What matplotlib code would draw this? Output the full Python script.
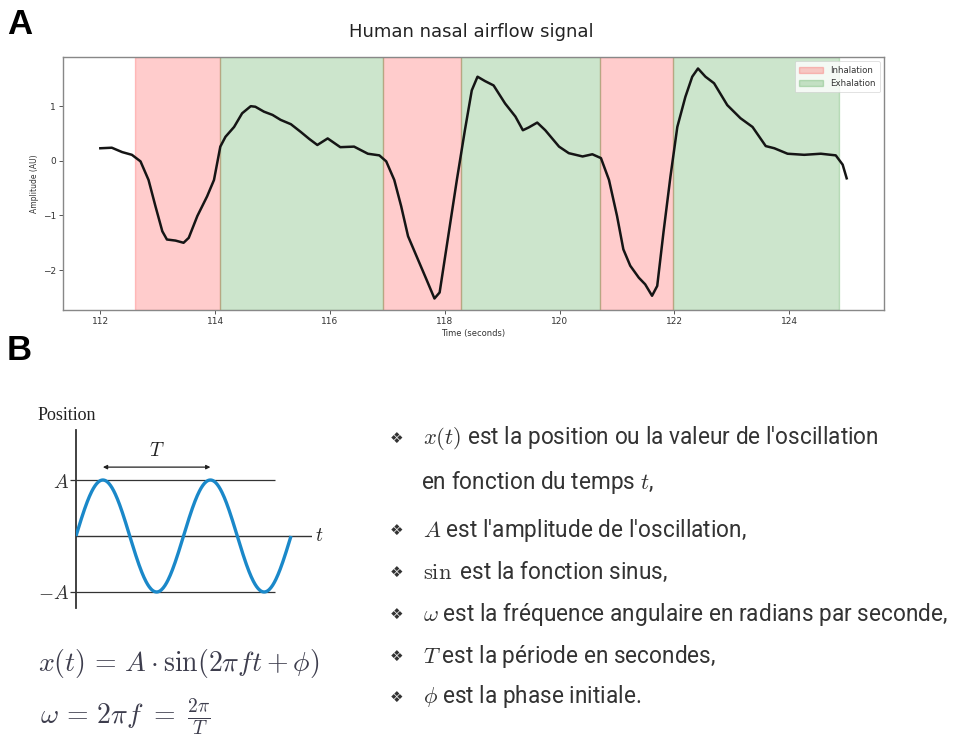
import numpy as np
import matplotlib
matplotlib.use("Agg")
import matplotlib.pyplot as plt

plt.rcParams["mathtext.fontset"] = "cm"

# ---------------- data (panel A) ----------------
time_s = [112.00, 112.20, 112.38, 112.55, 112.70, 112.84, 112.96, 113.08, 113.16, 113.31,
          113.45, 113.54, 113.69, 113.86, 113.98, 114.09, 114.18, 114.33, 114.47, 114.62,
          114.70, 114.85, 115.00, 115.14, 115.32, 115.49, 115.64, 115.78, 115.96, 116.18,
          116.42, 116.66, 116.86, 116.98, 117.12, 117.24, 117.36, 117.53, 117.68, 117.82,
          117.91, 118.06, 118.21, 118.35, 118.47, 118.57, 118.70, 118.85, 119.05, 119.23,
          119.36, 119.46, 119.61, 119.75, 119.99, 120.16, 120.40, 120.57, 120.72, 120.86,
          121.00, 121.11, 121.23, 121.38, 121.49, 121.61, 121.70, 121.81, 121.93, 122.05,
          122.19, 122.31, 122.41, 122.54, 122.69, 122.92, 123.15, 123.36, 123.59, 123.74,
          123.97, 124.26, 124.55, 124.81, 124.93, 125.00]
amplitude = [0.23, 0.24, 0.16, 0.11, -0.01, -0.35, -0.83, -1.29, -1.44, -1.46,
             -1.50, -1.41, -1.01, -0.65, -0.35, 0.26, 0.44, 0.62, 0.87, 1.00,
             0.99, 0.90, 0.84, 0.75, 0.67, 0.53, 0.40, 0.29, 0.41, 0.25,
             0.26, 0.13, 0.10, -0.01, -0.35, -0.83, -1.38, -1.80, -2.17, -2.52,
             -2.41, -1.38, -0.35, 0.56, 1.29, 1.54, 1.46, 1.38, 1.05, 0.81,
             0.56, 0.61, 0.70, 0.56, 0.26, 0.14, 0.08, 0.12, 0.05, -0.35,
             -1.01, -1.62, -1.92, -2.14, -2.26, -2.47, -2.29, -1.30, -0.29, 0.62,
             1.17, 1.54, 1.69, 1.54, 1.42, 1.02, 0.78, 0.62, 0.27, 0.23,
             0.13, 0.11, 0.13, 0.10, -0.07, -0.32]

inhale_start = [112.61, 116.92, 120.70]
inhale_end = [114.08, 118.28, 121.98]
exhale_start = [114.08, 118.28, 121.98]
exhale_end = [116.92, 120.70, 124.86]

x_ticks = [112, 114, 116, 118, 120, 122, 124]
y_ticks = [-2, -1, 0, 1]

# ---------------- data (panel B) ----------------
sine_amplitude = 1.0
sine_cycles = 2
sine_ticks = [1.0, -1.0]
sine_tick_labels = [r"$A$", r"$-A$"]

bullet_texts = [
    r"$x(t)$ est la position ou la valeur de l'oscillation",
    r"$A$ est l'amplitude de l'oscillation,",
    r"$\sin$ est la fonction sinus,",
    r"$\omega$ est la fréquence angulaire en radians par seconde,",
    r"$T$ est la période en secondes,",
    r"$\phi$ est la phase initiale.",
]
continuation_text = r"en fonction du temps $t$,"

# ---------------- figure ----------------
W, H = 955, 737
fig = plt.figure(figsize=(W / 100, H / 100), dpi=100)


def rect(l, t, r, b):
    return [l / W, 1 - b / H, (r - l) / W, (b - t) / H]


def fx(px):
    return px / W


def fy(py):
    return 1 - py / H


# ---- Panel A ----
ax = fig.add_axes(rect(63, 57, 884, 310))
for i, (s, e) in enumerate(zip(inhale_start, inhale_end)):
    ax.axvspan(s, e, color="red", alpha=0.2, label="Inhalation" if i == 0 else None)
for i, (s, e) in enumerate(zip(exhale_start, exhale_end)):
    ax.axvspan(s, e, color="green", alpha=0.2, label="Exhalation" if i == 0 else None)
ax.plot(time_s, amplitude, color="#151515", lw=1.8, solid_joinstyle="round")
ax.set_xticks(x_ticks)
ax.set_yticks(y_ticks)
ax.tick_params(labelsize=6.5, colors="#555555", labelcolor="#333333", length=3, width=0.7, pad=2)
ax.set_xlabel("Time (seconds)", fontsize=6, labelpad=2, color="#333333")
ax.set_ylabel("Amplitude (AU)", fontsize=5.5, labelpad=3, color="#333333")
for sp in ax.spines.values():
    sp.set_color("#888888")
    sp.set_linewidth(1.0)
leg = ax.legend(loc="upper right", fontsize=6.2, frameon=True, handlelength=2.8,
                borderpad=0.5, labelspacing=0.5)
leg.get_frame().set_linewidth(0.5)
for t in leg.get_texts():
    t.set_color("#333333")

fig.text(fx(471), fy(32), "Human nasal airflow signal", ha="center", va="center",
         fontsize=13, color="#222222")

fig.text(fx(7), fy(25), "A", ha="left", va="center", fontsize=25, fontweight="bold",
         family="Liberation Sans")
fig.text(fx(7), fy(350), "B", ha="left", va="center", fontsize=25, fontweight="bold",
         family="Liberation Sans")

# ---- Panel B : sine diagram ----
ax2 = fig.add_axes(rect(76, 430, 312, 608))
t_sine = np.linspace(0, sine_cycles, 400)
ax2.plot(t_sine, sine_amplitude * np.sin(2 * np.pi * t_sine), color="#1a88c9", lw=2.4,
         solid_capstyle="butt", zorder=3)
ax2.set_xlim(0, 2.195)
ax2.set_ylim(-1.286, 1.893)
ax2.axhline(0, color="#333333", lw=1.0, zorder=2)
ax2.hlines(sine_ticks, 0, 1.85, color="#333333", lw=0.9, zorder=2)
for name in ["top", "right", "bottom"]:
    ax2.spines[name].set_visible(False)
ax2.spines["left"].set_color("#333333")
ax2.spines["left"].set_linewidth(1.3)
ax2.set_xticks([])
ax2.set_yticks(sine_ticks)
ax2.set_yticklabels(sine_tick_labels)
ax2.tick_params(axis="y", direction="out", length=4, width=0.9, colors="#333333",
                labelsize=14, pad=1)
ax2.patch.set_alpha(0)
ax2.annotate("", xy=(1.25, 1.23), xytext=(0.25, 1.23),
             arrowprops=dict(arrowstyle="<|-|>", lw=0.9, color="#222222",
                             mutation_scale=6, shrinkA=0, shrinkB=0))
ax2.text(0.75, 1.52, r"$T$", ha="center", va="center", fontsize=14, color="#222222")
ax2.text(2.22, 0, r"$t$", ha="left", va="center", fontsize=14, color="#222222",
         clip_on=False)

fig.text(fx(38), fy(415), "Position", ha="left", va="center", fontsize=13,
         family="Liberation Serif", color="#222222")

fig.text(fx(38), fy(664), r"$x(t)\,=\,A\cdot\sin(2\pi ft+\phi)$", ha="left",
         va="center", fontsize=20, color="#3d3d4d")
fig.text(fx(40), fy(717), r"$\omega\,=\,2\pi f\ =\ \frac{2\pi}{T}$", ha="left",
         va="center", fontsize=20, color="#3d3d4d")

# ---- Panel B : bullet list ----
bullet_y = [438, 530, 572, 614, 656, 697]
for y, txt in zip(bullet_y, bullet_texts):
    fig.text(fx(397), fy(y), "\u2756", ha="center", va="center", fontsize=11,
             family="DejaVu Sans", color="#333333")
    fig.text(fx(423), fy(y), txt, ha="left", va="center", fontsize=16.3,
             family=["Roboto", "DejaVu Sans"], color="#333333")
fig.text(fx(421), fy(482), continuation_text, ha="left", va="center", fontsize=16.3,
         family=["Roboto", "DejaVu Sans"], color="#333333")

fig.savefig("out.png", dpi=100)
